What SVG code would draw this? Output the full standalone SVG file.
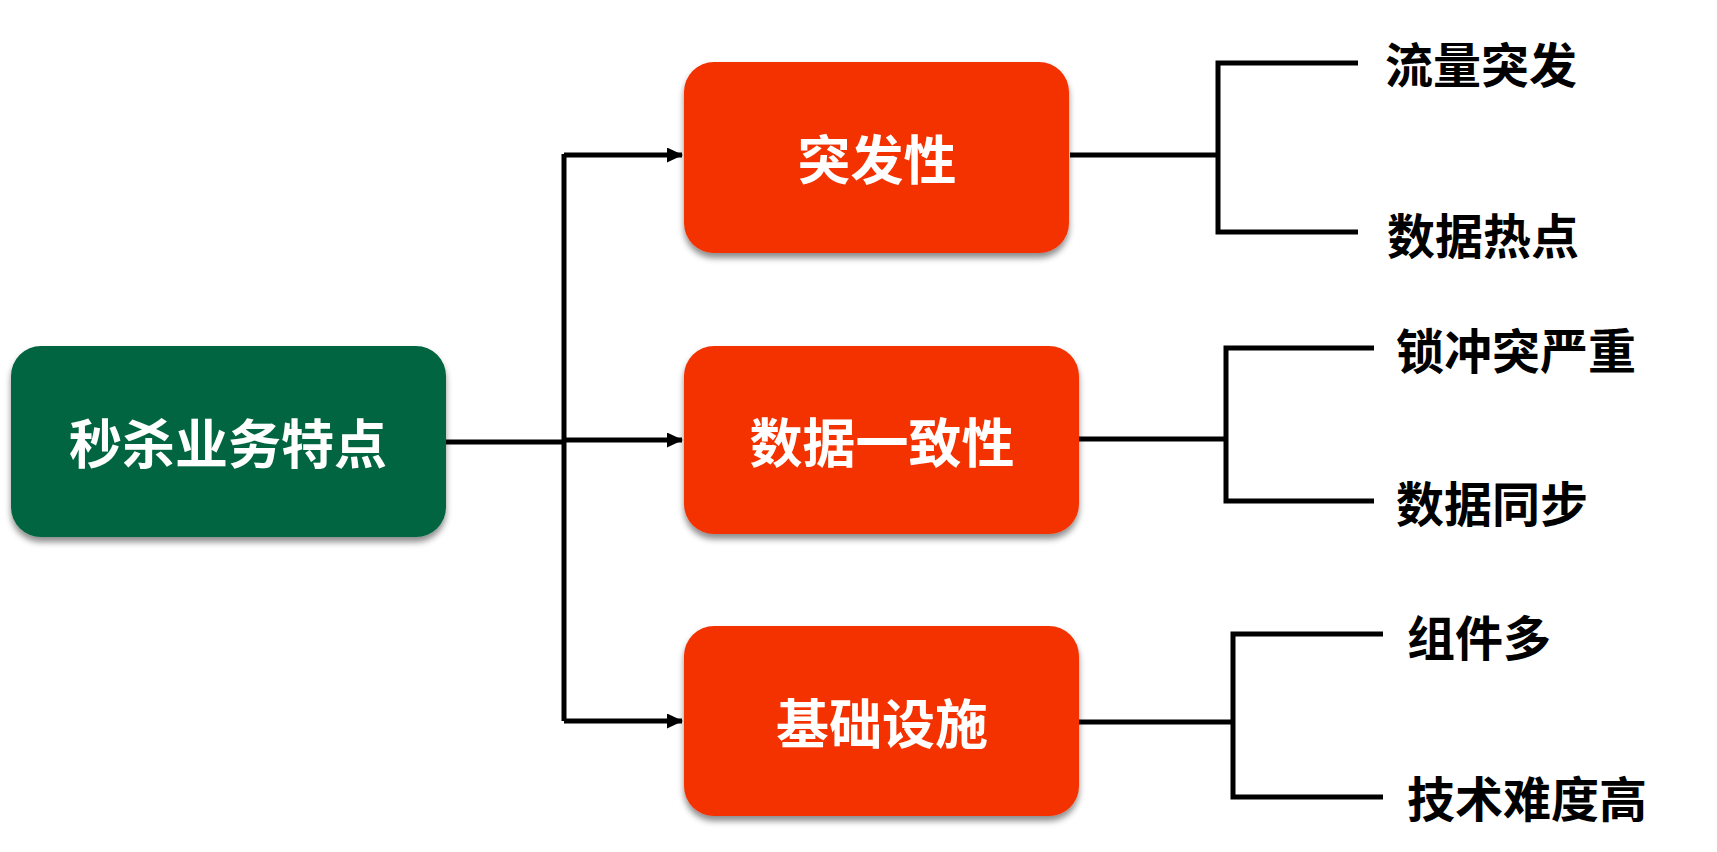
<svg xmlns="http://www.w3.org/2000/svg" width="1717" height="852" viewBox="0 0 1717 852">
<defs>
<style>
.box{stroke:none;filter:url(#sh)}
.g{fill:#02653F}
.r{fill:#F43200}
.bt{font-family:"Noto Sans CJK SC","Noto Sans",sans-serif;font-weight:bold;font-size:53px;fill:#ffffff;text-anchor:middle;dominant-baseline:central}
.lt{font-family:"Noto Sans CJK SC","Noto Sans",sans-serif;font-weight:bold;font-size:48px;fill:#000000;dominant-baseline:central}
.c{fill:none;stroke:#000;stroke-width:5}
</style>
<filter id="sh" x="-10%" y="-10%" width="120%" height="130%">
<feDropShadow dx="0" dy="5" stdDeviation="3" flood-color="#000" flood-opacity="0.45"/>
</filter>
<marker id="ah" markerWidth="16" markerHeight="15" refX="15" refY="7.5" orient="auto" markerUnits="userSpaceOnUse">
<path d="M0,0 L16,7.5 L0,15 Z" fill="#000"/>
</marker>
</defs>
<rect width="1717" height="852" fill="#ffffff"/>
<g id="connectors">
<path class="c" d="M446,442 H564"/>
<path class="c" d="M564,154 V721"/>
<path class="c" d="M564,155 H682" marker-end="url(#ah)"/>
<path class="c" d="M564,440 H682" marker-end="url(#ah)"/>
<path class="c" d="M564,721 H682" marker-end="url(#ah)"/>
<path class="c" d="M1070,155 H1218"/>
<path class="c" d="M1358,63 H1218 V232 H1358"/>
<path class="c" d="M1079,439 H1226"/>
<path class="c" d="M1374,348 H1226 V501 H1374"/>
<path class="c" d="M1079,722 H1233"/>
<path class="c" d="M1383,634 H1233 V797 H1383"/>
</g>
<g id="root">
<rect class="box g" x="11" y="346" width="435" height="191" rx="30"/>
<text class="bt" x="228" y="441">秒杀业务特点</text>
</g>
<g id="n1">
<rect class="box r" x="684" y="62" width="385" height="191" rx="30"/>
<text class="bt" x="877" y="157">突发性</text>
</g>
<g id="n2">
<rect class="box r" x="684" y="346" width="395" height="188" rx="30"/>
<text class="bt" x="882" y="440">数据一致性</text>
</g>
<g id="n3">
<rect class="box r" x="684" y="626" width="395" height="190" rx="30"/>
<text class="bt" x="882" y="721">基础设施</text>
</g>
<g id="l1"><text class="lt" x="1385" y="62">流量突发</text></g>
<g id="l2"><text class="lt" x="1387" y="233">数据热点</text></g>
<g id="l3"><text class="lt" x="1396" y="348">锁冲突严重</text></g>
<g id="l4"><text class="lt" x="1396" y="501">数据同步</text></g>
<g id="l5"><text class="lt" x="1407" y="635">组件多</text></g>
<g id="l6"><text class="lt" x="1407" y="796">技术难度高</text></g>
</svg>
